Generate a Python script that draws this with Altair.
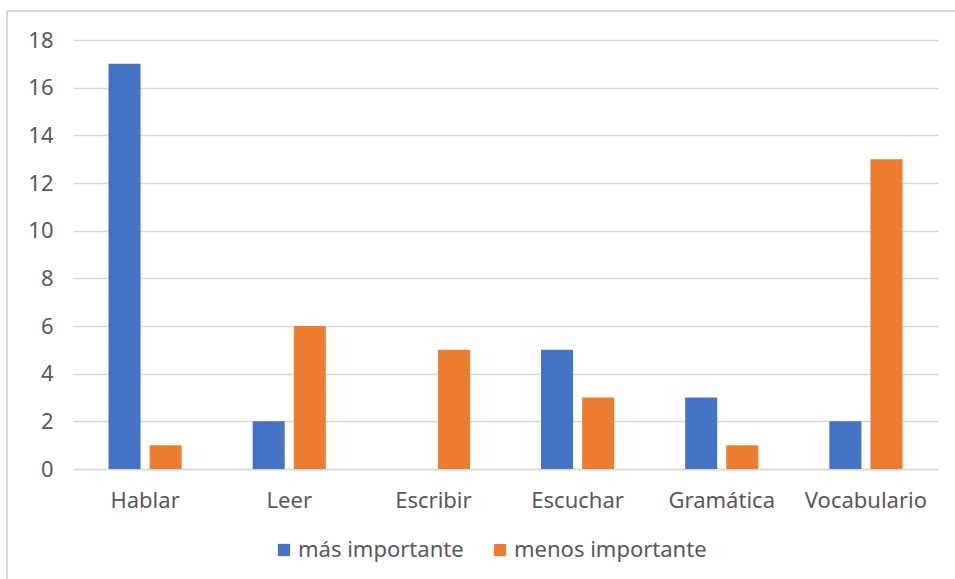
import altair as alt
import pandas as pd

# Skills and survey counts per answer
categories = ["Hablar", "Leer", "Escribir", "Escuchar", "Gramática", "Vocabulario"]
mas_importante = [17, 2, 0, 5, 3, 2]
menos_importante = [1, 6, 5, 3, 1, 13]
series = ["más importante", "menos importante"]
colors = ["#4472C4", "#ED7D31"]
y_ticks = list(range(0, 19, 2))

rows = []
for cat, a, b in zip(categories, mas_importante, menos_importante):
    rows.append({"habilidad": cat, "serie": series[0], "valor": a})
    rows.append({"habilidad": cat, "serie": series[1], "valor": b})
df = pd.DataFrame(rows)

FONT = "Noto Sans"
GRAY_TEXT = "#595959"
GRID = "#d9d9d9"

bars = alt.Chart(df).mark_bar().encode(
    x=alt.X(
        "habilidad:N",
        sort=categories,
        scale=alt.Scale(paddingInner=0.43, paddingOuter=0.215),
        axis=alt.Axis(
            title=None,
            labelAngle=0,
            labelFontSize=22,
            labelColor=GRAY_TEXT,
            labelFont=FONT,
            labelPadding=21,
            labelLimit=0,
            ticks=False,
            domainColor=GRID,
            domainWidth=1.5,
        ),
    ),
    xOffset=alt.XOffset(
        "serie:N",
        sort=series,
        scale=alt.Scale(domain=series, paddingInner=0.22, paddingOuter=0.11),
    ),
    y=alt.Y(
        "valor:Q",
        scale=alt.Scale(domain=[0, 18], nice=False),
        axis=alt.Axis(
            title=None,
            values=y_ticks,
            labelFontSize=22,
            labelColor=GRAY_TEXT,
            labelFont=FONT,
            labelPadding=20,
            ticks=False,
            domain=False,
            gridColor=GRID,
            gridWidth=1.5,
        ),
    ),
    color=alt.Color(
        "serie:N",
        sort=series,
        scale=alt.Scale(domain=series, range=colors),
        legend=alt.Legend(
            title=None,
            orient="none",
            direction="horizontal",
            legendX=200,
            legendY=499,
            symbolType="square",
            symbolSize=150,
            symbolStrokeWidth=0,
            labelFontSize=22,
            labelFont=FONT,
            labelColor=GRAY_TEXT,
            labelOffset=3,
            labelLimit=0,
            columnPadding=25,
            padding=0,
        ),
    ),
)

# Light frame around the whole chart (left and top edges)
frame_src = pd.DataFrame({"k": [0]})
frame_left = alt.Chart(frame_src).mark_rule(color=GRID, strokeWidth=2).encode(
    x=alt.value(-66), y=alt.value(-29), y2=alt.value(600)
)
frame_top = alt.Chart(frame_src).mark_rule(color=GRID, strokeWidth=2).encode(
    x=alt.value(-66), x2=alt.value(920), y=alt.value(-29)
)

chart = (
    alt.layer(bars, frame_left, frame_top)
    .properties(
        width=865,
        height=429,
        autosize=alt.AutoSizeParams(type="none"),
        padding={"left": 73, "top": 40, "right": 17, "bottom": 110},
        background="white",
    )
    .configure_view(stroke=None)
)

chart.save("out.html", embed_options={"renderer": "svg", "actions": False})
